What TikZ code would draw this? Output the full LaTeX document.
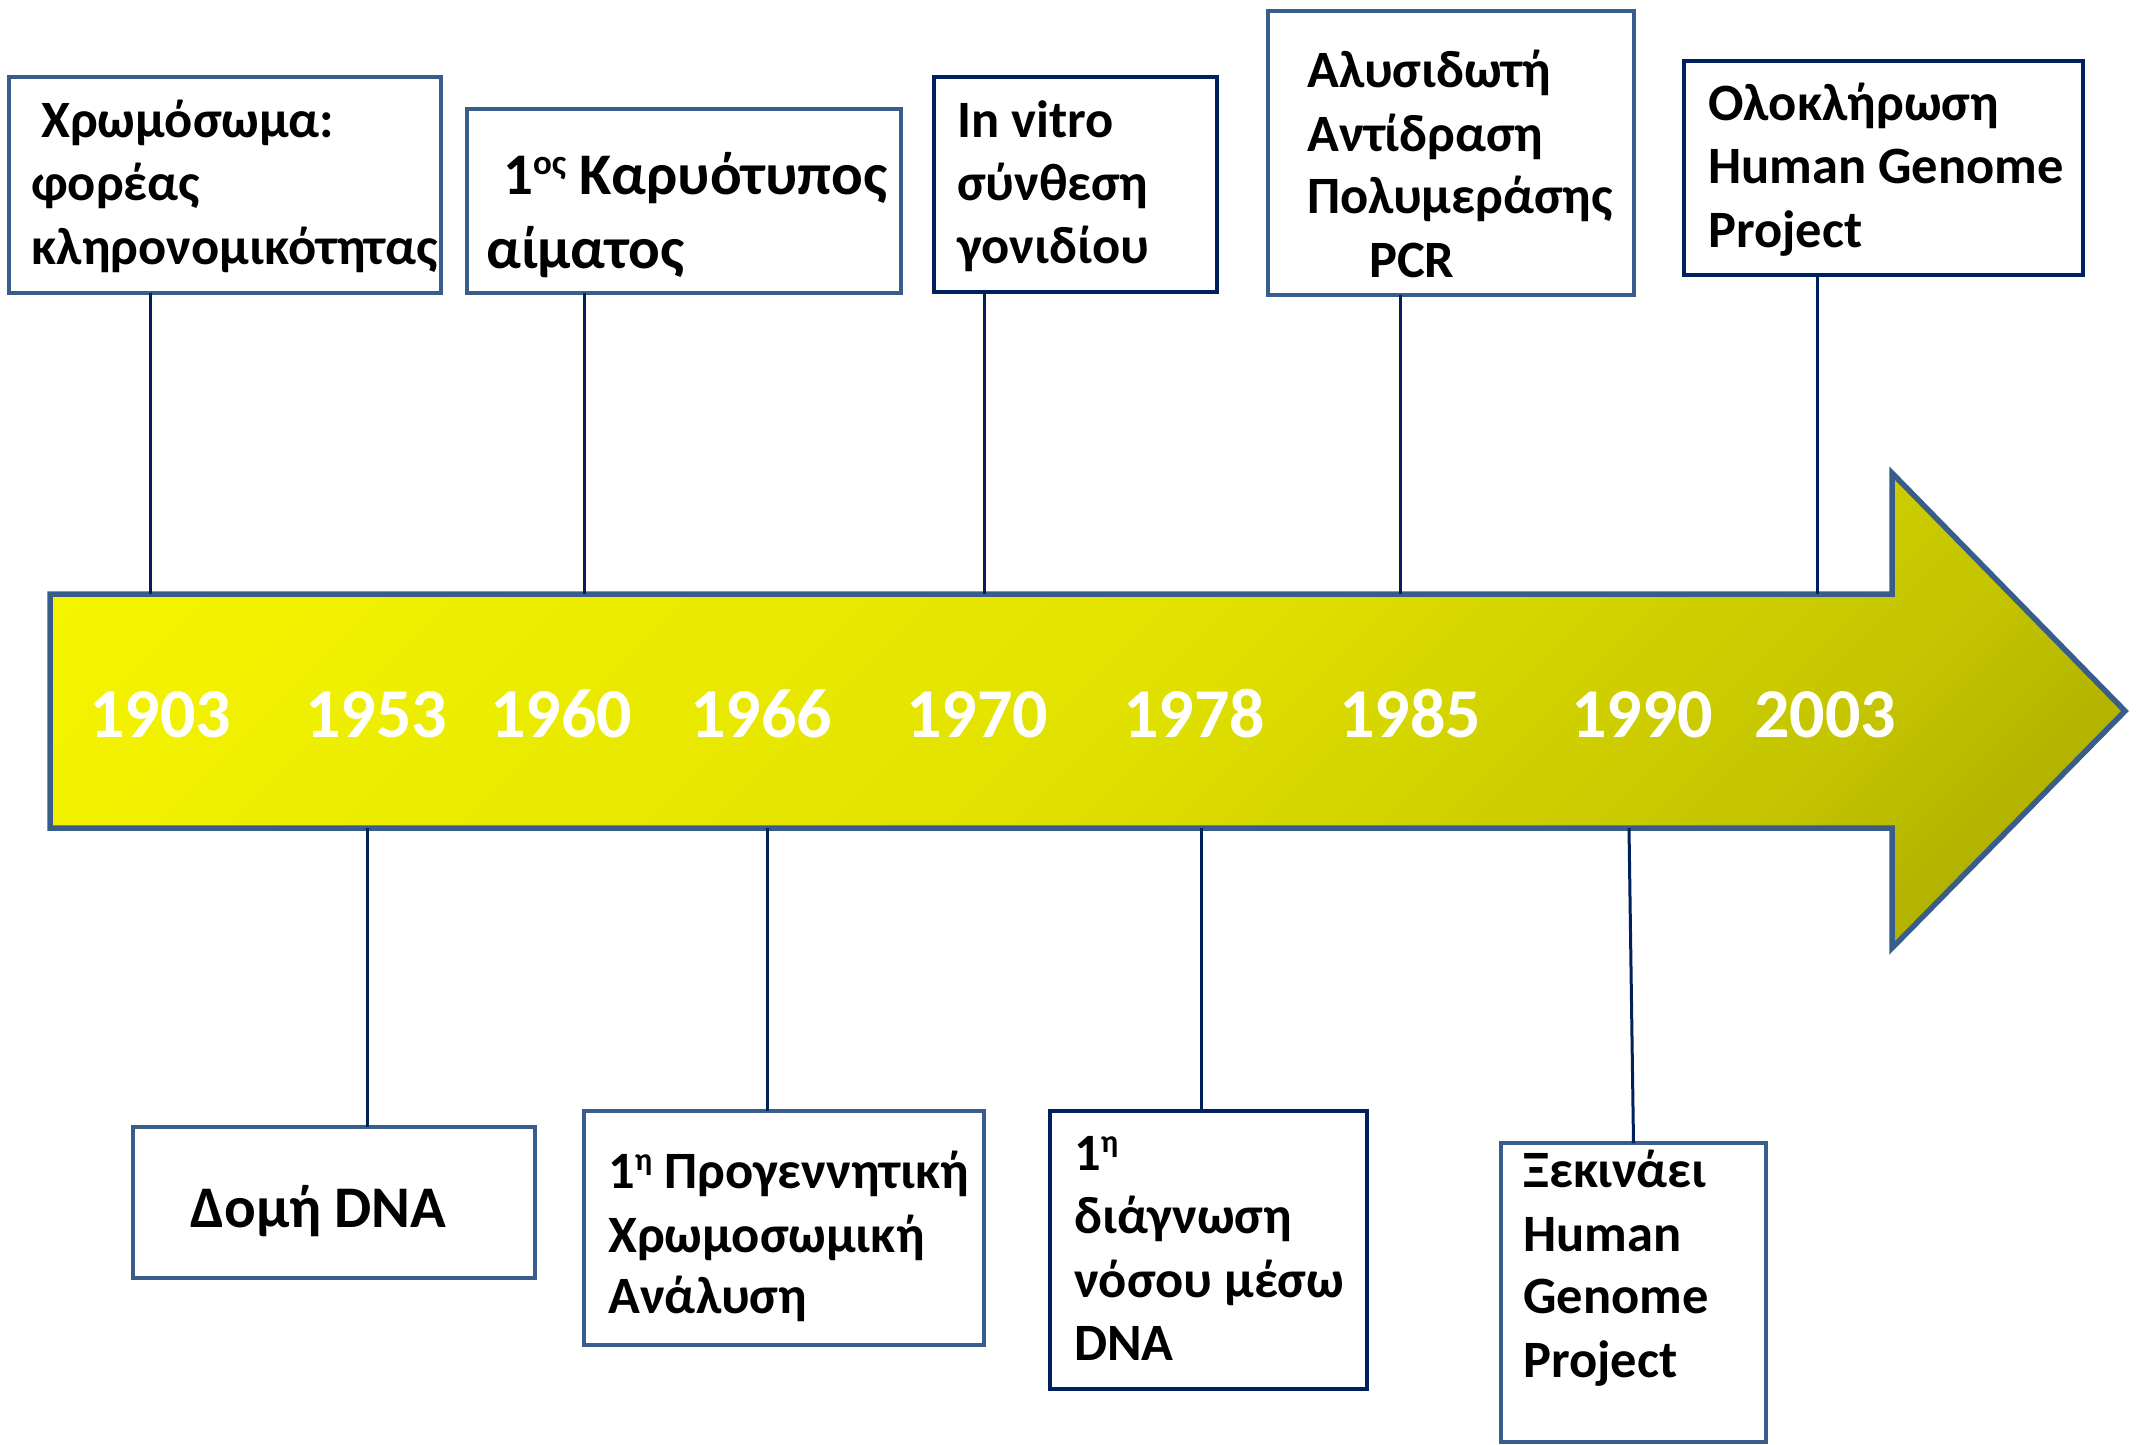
\documentclass[tikz,border=0pt]{standalone}
\usepackage{fontspec}
\setmainfont{Carlito}
\definecolor{steel}{HTML}{385D8A}
\definecolor{navy}{HTML}{002060}
\definecolor{arA}{HTML}{F7F700}
\definecolor{arB}{HTML}{E2E200}
\definecolor{arC}{HTML}{C4C400}
\definecolor{arD}{HTML}{AAAA00}
\definecolor{arE}{HTML}{A0A000}
% diagonal yellow-to-olive fill of the timeline arrow
\pgfdeclareverticalshading{arrowfill}{100bp}{color(0bp)=(arE); color(14.6bp)=(arE); color(18bp)=(arD); color(28bp)=(arC); color(50bp)=(arB); color(85.4bp)=(arA); color(100bp)=(arA)}
% raised small ordinal suffix: \supx{raise}{size}{text}
\newcommand\supx[3]{\raisebox{#1pt}{\fontsize{#2}{#2}\selectfont #3}}
\begin{document}
\begin{tikzpicture}[x=1pt,y=-1pt,
  boxs/.style={draw=steel, line width=4.5pt, fill=white, inner sep=0pt, outer sep=0pt, anchor=north west},
  boxn/.style={draw=navy, line width=3.5pt, fill=white, inner sep=0pt, outer sep=0pt, anchor=north west},
  conn/.style={draw=navy, line width=3pt},
  txt/.style={font=\bfseries\fontsize{52.5}{60}\selectfont, anchor=base west, inner sep=0pt},
  bigtxt/.style={txt, font=\bfseries\fontsize{59}{66}\selectfont},
  yr/.style={text=white, font=\bfseries\fontsize{70}{80}\selectfont, anchor=base, inner sep=0pt}]
\useasboundingbox[fill=white] (0,0) rectangle (2140,1444);

% timeline arrow
\path[draw=steel, line width=5.5pt, line join=miter, shading=arrowfill, shading angle=45]
  (50,594) -- (1892,594) -- (1892,473) -- (2125,711) -- (1892,948) -- (1892,828) -- (50,828) -- cycle;

% attachment points on the arrow
\coordinate (a1) at (150,594);
\coordinate (a2) at (584,594);
\coordinate (a3) at (984,594);
\coordinate (a4) at (1400,594);
\coordinate (a5) at (1817,594);
\coordinate (a6) at (367,828);
\coordinate (a7) at (767,828);
\coordinate (a8) at (1201,828);
\coordinate (a9) at (1629,828);

% event boxes
\node[boxs, minimum width=432pt, minimum height=216pt] (b1) at (9,77) {};
\node[boxs, minimum width=434pt, minimum height=184pt] (b2) at (467,109) {};
\node[boxn, minimum width=283pt, minimum height=215pt] (b3) at (934,77) {};
\node[boxs, minimum width=366pt, minimum height=284pt] (b4) at (1268,11) {};
\node[boxn, minimum width=399pt, minimum height=214pt] (b5) at (1684,61) {};
\node[boxs, minimum width=402pt, minimum height=151pt] (b6) at (133,1127) {};
\node[boxs, minimum width=400pt, minimum height=234pt] (b7) at (584,1111) {};
\node[boxn, minimum width=317pt, minimum height=278pt] (b8) at (1050,1111) {};
\node[boxs, minimum width=265pt, minimum height=299pt] (b9) at (1501,1143) {};

% connectors
\draw[conn] (b1.south -| a1) -- (a1);
\draw[conn] (b2.south -| a2) -- (a2);
\draw[conn] (b3.south -| a3) -- (a3);
\draw[conn] (b4.south -| a4) -- (a4);
\draw[conn] (b5.south -| a5) -- (a5);
\draw[conn] (a6) -- (b6.north -| a6);
\draw[conn] (a7) -- (b7.north -| a7);
\draw[conn] (a8) -- (b8.north -| a8);
\draw[conn] (a9) -- (b9.north);

% years
\node[yr] (y1) at (160,737) {1903};
\node[yr] (y2) at (376,737) {1953};
\node[yr] (y3) at (561,737) {1960};
\node[yr] (y4) at (761,737) {1966};
\node[yr] (y5) at (977,737) {1970};
\node[yr] (y6) at (1194,737) {1978};
\node[yr] (y7) at (1410,737) {1985};
\node[yr] (y8) at (1642,737) {1990};
\node[yr] (y9) at (1825,737) {2003};

% box texts
\node[txt] (t1a) at (41,137) {Χρωμόσωμα:};
\node[txt] (t1b) at (31,200) {φορέας};
\node[txt] (t1c) at (31,264) {κληρονομικότητας};

\node[bigtxt] (t2a) at (503,194) {1\supx{20}{35}{ος} Καρυότυπος};
\node[bigtxt] (t2b) at (486,268) {αίματος};

\node[txt] (t3a) at (957,137) {In vitro};
\node[txt] (t3b) at (957,200) {σύνθεση};
\node[txt] (t3c) at (957,263) {γονιδίου};

\node[txt] (t4a) at (1307,87) {Αλυσιδωτή};
\node[txt] (t4b) at (1307,151) {Αντίδραση};
\node[txt] (t4c) at (1307,213) {Πολυμεράσης};
\node[txt] (t4d) at (1369,277) {PCR};

\node[txt] (t5a) at (1708,120) {Ολοκλήρωση};
\node[txt] (t5b) at (1708,183) {Human Genome};
\node[txt] (t5c) at (1708,247) {Project};

\node[bigtxt] (t6a) at (190,1227) {Δομή DNA};

\node[txt] (t7a) at (608,1188) {1\supx{18}{32}{η} Προγεννητική};
\node[txt] (t7b) at (608,1252) {Χρωμοσωμική};
\node[txt] (t7c) at (608,1313) {Ανάλυση};

\node[txt] (t8a) at (1074,1170) {1\supx{18}{32}{η}};
\node[txt] (t8b) at (1074,1233) {διάγνωση};
\node[txt] (t8c) at (1074,1297) {νόσου μέσω};
\node[txt] (t8d) at (1074,1360) {DNA};

\node[txt] (t9a) at (1523,1187) {Ξεκινάει};
\node[txt] (t9b) at (1523,1251) {Human};
\node[txt] (t9c) at (1523,1313) {Genome};
\node[txt] (t9d) at (1523,1377) {Project};
\end{tikzpicture}
\end{document}
